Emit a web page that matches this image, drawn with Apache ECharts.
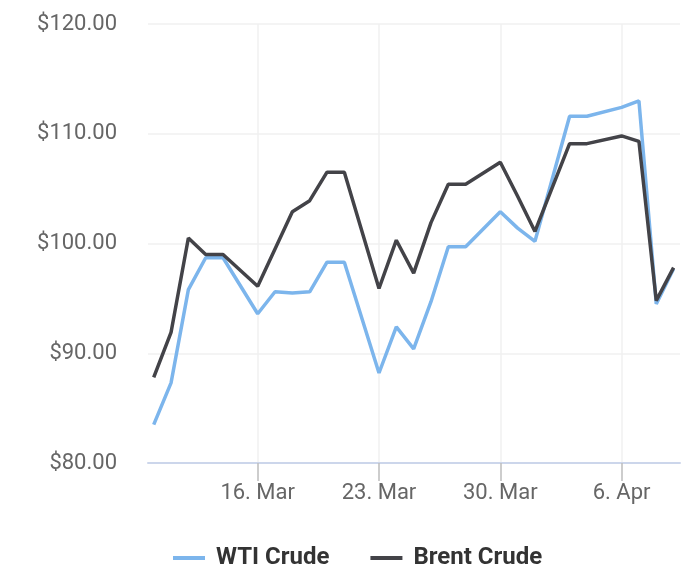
<!DOCTYPE html>
<html lang="en">
<head>
<meta charset="UTF-8">
<title>WTI vs Brent</title>
<script src="https://cdn.jsdelivr.net/npm/echarts@6/dist/echarts.min.js"></script>
<style>
  html, body { margin: 0; padding: 0; background: #fff; }
  #main { width: 700px; height: 586px; }
</style>
</head>
<body>
<div id="main"></div>
<script>
// 日期 (2022)
var dates = ['03-10', '03-11', '03-12', '03-13', '03-14', '03-16', '03-17', '03-18', '03-19',
  '03-20', '03-21', '03-23', '03-24', '03-25', '03-26', '03-27', '03-28', '03-30', '03-31',
  '04-01', '04-03', '04-04', '04-06', '04-07', '04-08', '04-09'];
// WTI 价格
var wti = [83.5, 87.3, 95.8, 98.7, 98.7, 93.6, 95.6, 95.5, 95.6, 98.3, 98.3, 88.2, 92.4,
  90.4, 94.7, 99.7, 99.7, 102.9, 101.4, 100.2, 111.6, 111.6, 112.4, 113.0, 94.5, 97.7];
// Brent 价格
var brent = [87.8, 91.9, 100.5, 99.0, 99.0, 96.1, 99.5, 102.9, 103.9, 106.5, 106.5, 95.9, 100.3,
  97.3, 101.9, 105.4, 105.4, 107.4, 104.3, 101.1, 109.1, 109.1, 109.8, 109.3, 94.8, 97.8];
// x轴刻度
var tickDates = ['03-16', '03-23', '03-30', '04-06'];
var yTicks = [80, 90, 100, 110, 120];

var months = ['Jan', 'Feb', 'Mar', 'Apr', 'May', 'Jun', 'Jul', 'Aug', 'Sep', 'Oct', 'Nov', 'Dec'];
var DAY = 86400000;
function toTime(s) {
  var p = s.split('-');
  return Date.UTC(2022, parseInt(p[0], 10) - 1, parseInt(p[1], 10));
}
var xs = dates.map(toTime);
var tickXs = tickDates.map(toTime);

var myChart = echarts.init(document.getElementById('main'));
var option = {
  animation: false,
  textStyle: { fontFamily: 'Roboto' },
  grid: { left: 148, right: 20, top: 24, bottom: 123, containLabel: false },
  xAxis: {
    type: 'value',
    min: xs[0] - 0.33 * DAY,
    max: xs[xs.length - 1] + 0.37 * DAY,
    axisLine: { show: true, lineStyle: { color: '#ccd6eb', width: 2 } },
    axisTick: { show: true, customValues: tickXs, length: 18, lineStyle: { color: '#bdbdbd', width: 1.5 } },
    axisLabel: {
      customValues: tickXs,
      margin: 19,
      fontSize: 22,
      color: '#666',
      formatter: function (v) {
        var d = new Date(v);
        return d.getUTCDate() + '. ' + months[d.getUTCMonth()];
      }
    },
    splitLine: { show: true, lineStyle: { color: '#f0f0f0', width: 1.5 } }
  },
  yAxis: {
    type: 'value',
    min: yTicks[0],
    max: yTicks[yTicks.length - 1],
    interval: 10,
    axisLine: { show: false },
    axisTick: { show: false },
    axisLabel: {
      margin: 31,
      fontSize: 22,
      color: '#666',
      formatter: function (v) { return '$' + v.toFixed(2); }
    },
    splitLine: { lineStyle: { color: '#f0f0f0', width: 1.5 } }
  },
  legend: {
    top: 541,
    left: 168,
    icon: 'rect',
    itemWidth: 32,
    itemHeight: 4,
    itemGap: 41,
    textStyle: { fontSize: 24, fontWeight: 'bold', color: '#333', padding: [0, 0, 0, 6] },
    data: ['WTI Crude', 'Brent Crude']
  },
  series: [
    {
      name: 'WTI Crude',
      type: 'line',
      showSymbol: false,
      color: '#7cb5ec',
      lineStyle: { width: 3.5, color: '#7cb5ec' },
      data: xs.map(function (x, i) { return [x, wti[i]]; })
    },
    {
      name: 'Brent Crude',
      type: 'line',
      showSymbol: false,
      color: '#434348',
      lineStyle: { width: 3.5, color: '#434348' },
      data: xs.map(function (x, i) { return [x, brent[i]]; })
    }
  ]
};
myChart.setOption(option);
</script>
</body>
</html>
